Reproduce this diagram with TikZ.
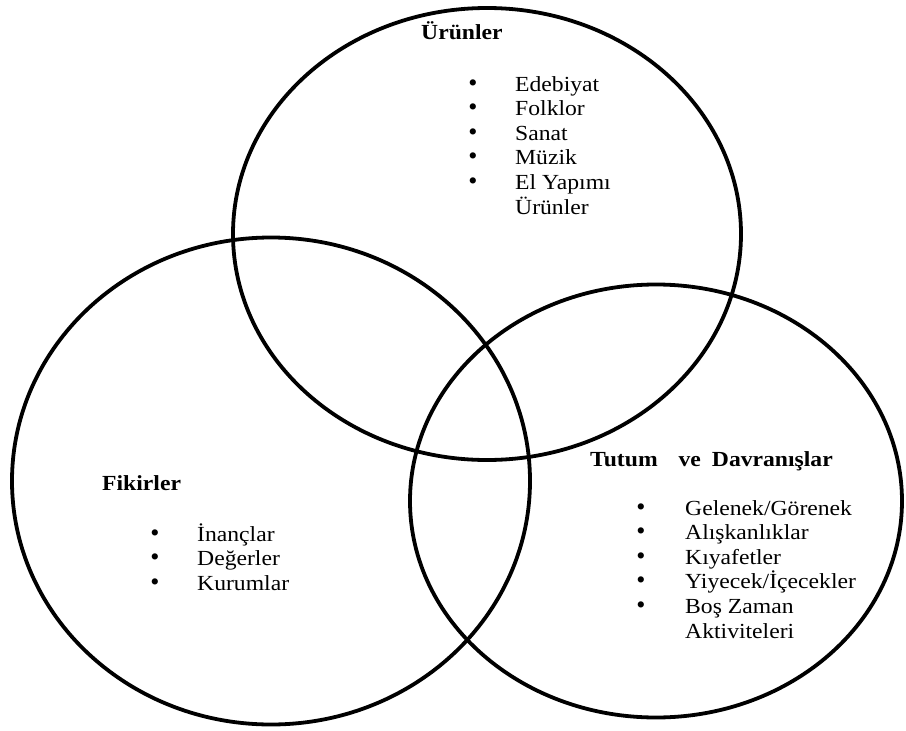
\documentclass[tikz,border=0pt]{standalone}
\usepackage{fontspec}
\setmainfont{Liberation Serif}
\usetikzlibrary{shapes.geometric}
\tikzset{
  ring/.style={draw=black, ellipse, line width=3.8pt, inner sep=0pt},
  heading/.style={font=\fontsize{21.5}{25}\selectfont\bfseries, anchor=base west,
    inner sep=0pt, xscale=1.1},
  entry/.style={font=\fontsize{21.5}{25}\selectfont, anchor=base west,
    inner sep=0pt, xscale=1.1},
}

\begin{document}
\begin{tikzpicture}[
  x=1pt, y=-1pt,
  dot/.style={font=\fontsize{26}{25}\selectfont, anchor=base, inner sep=0pt},
]
  \useasboundingbox (0,0) rectangle (906,731);

  % the three sets
  \node[ring, minimum width=508, minimum height=452] (urun) at (487,234) {};
  \node[ring, minimum width=518, minimum height=487] (fikir) at (271,481) {};
  \node[ring, minimum width=492, minimum height=433] (tutum) at (656,501) {};

  % Urunler
  \node[heading] (urunh) at (421,39) {Ürünler};
  \foreach \txt [count=\i] in {Edebiyat, Folklor, Sanat, Müzik, El Yapımı} {
    \node[dot] (ud\i) at (473,66.4+24.6*\i) {\textbullet};
    \node[entry] (ue\i) at (515,66.4+24.6*\i) {\txt};
  }
  \node[entry] (ue6) at (515,214) {Ürünler};

  % Fikirler
  \node[heading] (fikirh) at (102,490) {Fikirler};
  \foreach \txt [count=\i] in {İnançlar, Değerler, Kurumlar} {
    \node[dot] (fd\i) at (155,516.4+24.6*\i) {\textbullet};
    \node[entry] (fe\i) at (197,516.4+24.6*\i) {\txt};
  }

  % Tutum ve Davranislar
  \node[heading] (tutumh) at (590,466) {Tutum\hspace{19pt}ve\hspace{10pt}Davranışlar};
  \foreach \txt [count=\i] in {Gelenek/Görenek, Alışkanlıklar, Kıyafetler,
      Yiyecek/İçecekler, Boş Zaman} {
    \node[dot] (td\i) at (641,490.4+24.6*\i) {\textbullet};
    \node[entry] (te\i) at (685,490.4+24.6*\i) {\txt};
  }
  \node[entry] (te6) at (685,638) {Aktiviteleri};
\end{tikzpicture}
\end{document}
